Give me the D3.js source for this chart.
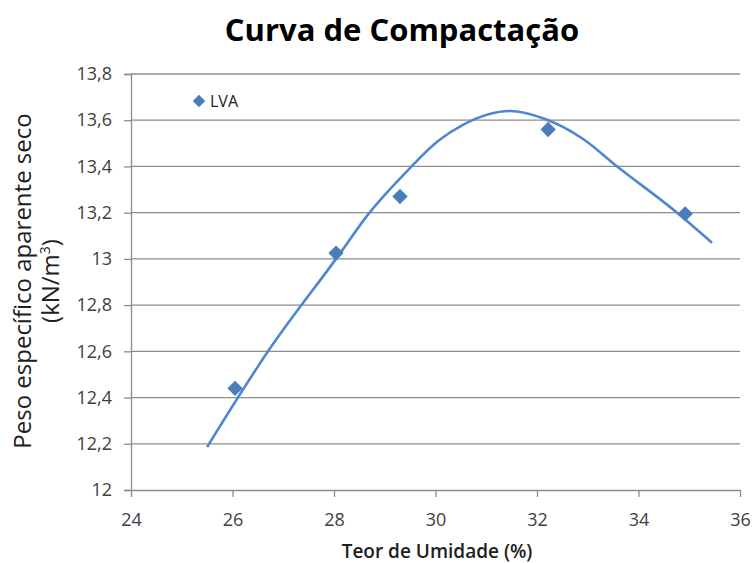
<html>
<head>
<script src="https://d3js.org/d3.v7.min.js"></script>
<style>
  body { margin: 0; background: #fff; }
  text { font-family: "Open Sans", "DejaVu Sans", sans-serif; }
</style>
</head>
<body>
<svg width="752" height="563"></svg>
<script>
// measured points
var umidade = [26.05, 28.04, 29.30, 32.22, 34.92];
var peso = [12.44, 13.025, 13.27, 13.56, 13.195];

// trend line
var curvaX = [25.5, 26.7, 28.04, 28.7, 29.44, 30.05, 30.54, 31.47, 32.16, 32.9, 33.58, 34.76, 35.45];
var curvaY = [12.186, 12.6, 13.0, 13.2, 13.38, 13.51, 13.58, 13.64, 13.605, 13.52, 13.4, 13.2, 13.07];

var xTicks = [24, 26, 28, 30, 32, 34, 36];
var yTicks = [12, 12.2, 12.4, 12.6, 12.8, 13, 13.2, 13.4, 13.6, 13.8];

var svg = d3.select("svg");
var mg_left = 131, mg_right = 740, mg_top = 74, mg_bottom = 490;

var xs = d3.scaleLinear().domain([24, 36]).range([mg_left, mg_right]);
var ys = d3.scaleLinear().domain([12, 13.8]).range([mg_bottom, mg_top]);
var fmt = function(d) { return String(+d.toFixed(1)).replace(".", ","); };

// grid lines
svg.append("g")
    .selectAll("line")
    .data(yTicks.slice(1))
    .enter()
    .append("line")
    .attr("x1", mg_left)
    .attr("x2", mg_right)
    .attr("y1", function(d) { return ys(d); })
    .attr("y2", function(d) { return ys(d); })
    .attr("stroke", "#8c8c8c")
    .attr("stroke-width", 1.3);

// y axis
var yAx = svg.append("g")
    .attr("transform", "translate(" + mg_left + ",0)")
    .call(d3.axisLeft(ys).tickValues(yTicks).tickFormat(fmt).tickSize(7).tickPadding(12));
yAx.select(".domain").attr("stroke", "#8c8c8c").attr("stroke-width", 1.3);
yAx.selectAll(".tick line").attr("stroke", "#8c8c8c").attr("stroke-width", 1.3);
yAx.selectAll(".tick text").attr("fill", "#404040").style("font-size", "18px");

// x axis
var xAx = svg.append("g")
    .attr("transform", "translate(0," + mg_bottom + ")")
    .call(d3.axisBottom(xs).tickValues(xTicks).tickSize(7).tickPadding(16).tickSizeOuter(0));
xAx.select(".domain").attr("stroke", "#8c8c8c").attr("stroke-width", 1.3);
xAx.selectAll(".tick line").attr("stroke", "#8c8c8c").attr("stroke-width", 1.3);
xAx.selectAll(".tick text").attr("fill", "#404040").style("font-size", "18px");

// trend line
var line = d3.line()
    .x(function(d, i) { return xs(curvaX[i]); })
    .y(function(d) { return ys(d); })
    .curve(d3.curveMonotoneX);
svg.append("path")
    .attr("d", line(curvaY))
    .attr("fill", "none")
    .attr("stroke", "#4f86d0")
    .attr("stroke-width", 2.6);

// points
var diamond = d3.symbol().type(d3.symbolDiamond2).size(150);
svg.append("g")
    .selectAll("path")
    .data(peso)
    .enter()
    .append("path")
    .attr("d", diamond)
    .attr("transform", function(d, i) { return "translate(" + xs(umidade[i]) + "," + ys(d) + ")"; })
    .attr("fill", "#4a7ebb");

// legend
svg.append("path")
    .attr("d", d3.symbol().type(d3.symbolDiamond2).size(100))
    .attr("transform", "translate(199,101)")
    .attr("fill", "#4a7ebb");
svg.append("text")
    .attr("x", 210)
    .attr("y", 107)
    .style("font-size", "16px")
    .attr("fill", "#202020")
    .text("LVA");

// title
svg.append("text")
    .attr("x", 402)
    .attr("y", 41)
    .attr("text-anchor", "middle")
    .style("font-size", "31px")
    .style("font-weight", "bold")
    .text("Curva de Compactação");

// axis titles
svg.append("text")
    .attr("x", 437)
    .attr("y", 558)
    .attr("text-anchor", "middle")
    .style("font-size", "19px")
    .style("font-weight", "600")
    .attr("fill", "#202020")
    .text("Teor de Umidade (%)");

var yt = svg.append("text")
    .attr("transform", "translate(0,281) rotate(-90)")
    .attr("text-anchor", "middle")
    .style("font-size", "24px")
    .attr("fill", "#202020");
yt.append("tspan").attr("x", 0).attr("y", 31).text("Peso específico aparente seco");
yt.append("tspan").attr("x", 0).attr("y", 59).text("(kN/m")
    .append("tspan").attr("dy", -9).style("font-size", "14px").text("3");
yt.append("tspan").attr("dy", 9).text(")");
</script>
</body>
</html>
